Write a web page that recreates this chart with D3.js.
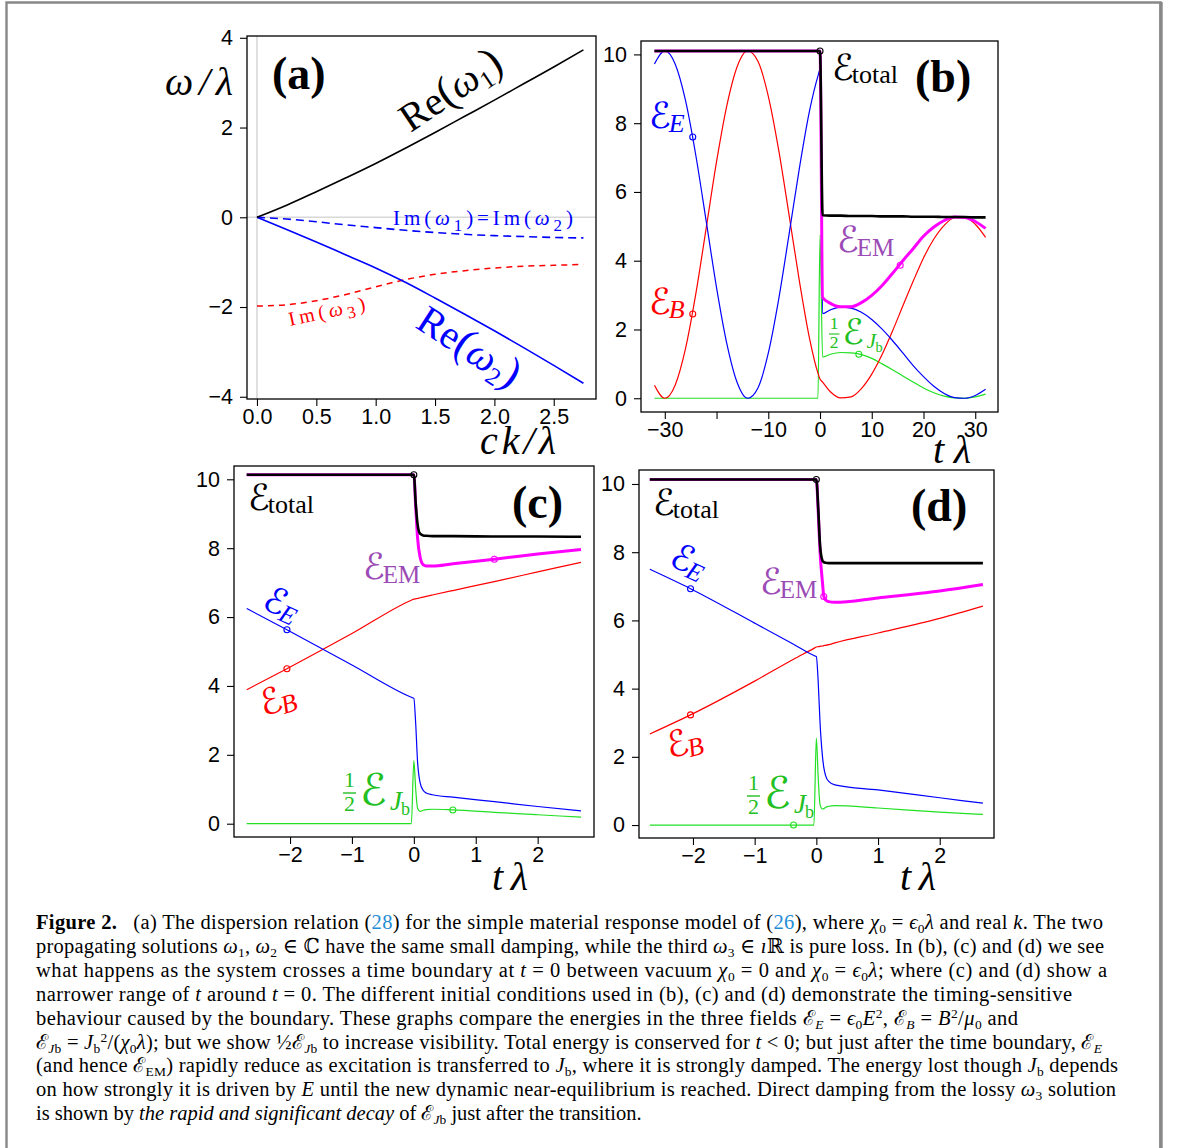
<!DOCTYPE html>
<html>
<head>
<meta charset="utf-8">
<script src="https://cdn.jsdelivr.net/npm/d3@7"></script>
<style>
  body { margin: 0; background: #fff; }
  svg { display: block; }
</style>
</head>
<body>
<div id="fig"></div>
<script>
// ---- (a) dispersion relation ----
const kVals = [0, 0.25, 0.5, 0.75, 1.0, 1.25, 1.5, 1.75, 2.0, 2.25, 2.5, 2.75];
const reW1  = [0, 0.27, 0.57, 0.88, 1.20, 1.54, 1.89, 2.25, 2.61, 2.98, 3.35, 3.73];
const reW2  = [0, -0.27, -0.55, -0.84, -1.13, -1.45, -1.80, -2.16, -2.53, -2.91, -3.30, -3.70];
const imW12 = [0, -0.04, -0.10, -0.17, -0.23, -0.29, -0.34, -0.38, -0.41, -0.43, -0.45, -0.46];
const imW3  = [-1.98, -1.95, -1.86, -1.72, -1.55, -1.39, -1.27, -1.19, -1.13, -1.09, -1.07, -1.05];

// ---- (b) energies, wide time range ----
const bT   = [-32, -30, -28, -26, -24, -22, -20, -18, -16, -14, -12, -10, -8, -6, -4, -2, -0.4, 0,
              0.5, 2, 4, 6, 8, 10, 12, 14, 16, 18, 20, 22, 24, 26, 28, 30, 32];
const bEE  = [9.72, 10.1, 9.72, 8.66, 7.06, 5.15, 3.22, 1.58, 0.45, 0.0, 0.30, 1.31, 2.87, 4.75, 6.68, 8.38, 9.37, 9.56,
              2.46, 2.57, 2.65, 2.62, 2.50, 2.29, 2.01, 1.68, 1.32, 0.95, 0.63, 0.35, 0.14, 0.02, 0.0, 0.08, 0.26];
const bEB  = [0.38, 0.0, 0.38, 1.44, 3.04, 4.95, 6.88, 8.52, 9.65, 10.1, 9.80, 8.79, 7.23, 5.35, 3.42, 1.72, 0.73, 0.56,
              0.47, 0.19, 0.01, 0.04, 0.28, 0.70, 1.27, 1.95, 2.68, 3.40, 4.08, 4.63, 5.03, 5.25, 5.26, 5.06, 4.68];
const bJ   = [0, 0, 0, 0, 0, 0, 0, 0, 0, 0, 0, 0, 0, 0, 0, 0, 0, 4.75,
              1.20, 1.28, 1.33, 1.32, 1.27, 1.16, 1.00, 0.83, 0.65, 0.47, 0.30, 0.16, 0.06, 0.01, 0.0, 0.04, 0.12];
const bEM  = [10.1, 10.1, 10.1, 10.1, 10.1, 10.1, 10.1, 10.1, 10.1, 10.1, 10.1, 10.1, 10.1, 10.1, 10.1, 10.1, 10.1, 10.1,
              2.93, 2.76, 2.66, 2.66, 2.78, 2.99, 3.28, 3.63, 4.00, 4.35, 4.71, 4.98, 5.17, 5.27, 5.26, 5.14, 4.94];
const bTot = [10.1, 10.1, 10.1, 10.1, 10.1, 10.1, 10.1, 10.1, 10.1, 10.1, 10.1, 10.1, 10.1, 10.1, 10.1, 10.1, 10.1, 10.1,
              5.32, 5.31, 5.31, 5.30, 5.30, 5.30, 5.29, 5.29, 5.29, 5.28, 5.28, 5.28, 5.27, 5.27, 5.27, 5.26, 5.26];
const bMarks = [[0, 10.1], [-24.6, 7.6], [-24.6, 2.45], [15.5, 3.87], [7.5, 1.28]]; // total, E, B, EM, Jb

// ---- (c) narrow range ----
const cT   = [-2.7, -2.05, -1, -0.04, 0, 0.03, 0.06, 0.1, 0.15, 0.2, 0.3, 0.63, 1.3, 2, 2.7];
const cTot = [10.13, 10.13, 10.13, 10.13, 10.13, 9.3, 8.7, 8.42, 8.37, 8.36, 8.35, 8.35, 8.34, 8.34, 8.33];
const cEM  = [10.13, 10.13, 10.13, 10.13, 10.13, 9.2, 8.3, 7.75, 7.52, 7.48, 7.48, 7.55, 7.68, 7.83, 7.96];
const cEE  = [6.25, 5.63, 4.61, 3.67, 3.64, 2.9, 1.8, 1.2, 0.97, 0.89, 0.84, 0.77, 0.64, 0.50, 0.37];
const cEB  = [3.89, 4.50, 5.52, 6.49, 6.52, 6.53, 6.54, 6.56, 6.58, 6.60, 6.64, 6.77, 7.03, 7.31, 7.59];
const cJ   = [0, 0, 0, 0, 1.83, 1.0, 0.45, 0.36, 0.39, 0.41, 0.42, 0.40, 0.33, 0.26, 0.19];
const cMarks = [[0, 10.13], [-2.05, 5.63], [-2.05, 4.5], [1.3, 7.68], [0.63, 0.4]];

// ---- (d) narrow range, other initial condition ----
const dT   = [-2.7, -2.04, -1, -0.37, -0.04, 0, 0.03, 0.06, 0.1, 0.12, 0.15, 0.2, 0.3, 1, 2, 2.7];
const dTot = [10.13, 10.13, 10.13, 10.13, 10.13, 10.13, 9.3, 8.2, 7.75, 7.71, 7.69, 7.68, 7.68, 7.68, 7.68, 7.68];
const dEM  = [10.13, 10.13, 10.13, 10.13, 10.13, 10.13, 9.2, 8.0, 7.1, 6.72, 6.6, 6.55, 6.53, 6.66, 6.86, 7.05];
const dEE  = [7.5, 6.93, 5.92, 5.30, 4.97, 4.94, 4.2, 3.0, 2.0, 1.7, 1.45, 1.28, 1.18, 1.03, 0.80, 0.64];
const dEB  = [2.67, 3.23, 4.22, 4.86, 5.18, 5.22, 5.23, 5.24, 5.25, 5.26, 5.27, 5.29, 5.34, 5.63, 6.06, 6.42];
const dJ   = [0, 0, 0, 0, 0, 2.55, 1.4, 0.6, 0.47, 0.48, 0.52, 0.55, 0.57, 0.50, 0.38, 0.31];
const dMarks = [[0, 10.13], [-2.04, 6.93], [-2.04, 3.23], [0.12, 6.7], [-0.37, 0]];

// tick values
const aXTicks = [0, 0.5, 1, 1.5, 2, 2.5];
const aYTicks = [-4, -2, 0, 2, 4];
const bXTicks = [-30, -20, -10, 0, 10, 20, 30];
const bXHidden = [-20];               // label dropped in the original
const eYTicks = [0, 2, 4, 6, 8, 10];
const cXTicks = [-2, -1, 0, 1, 2];

const W = 1179, H = 1148;
const SERIF = "'Liberation Serif', 'DejaVu Serif', serif";
const SANS = "'Liberation Sans', Arial, sans-serif";
const SCRIPT = "'DejaVu Serif', 'DejaVu Sans', serif";
const BLUE = "#0000ff", RED = "#ff0000", GREEN = "#22e022", MAG = "#ff00ff";
const PURPLE = "#9b4bb5", GREENTXT = "#22c022";
const minus = v => String(v).replace("-", "\u2212");

const svg = d3.select("#fig").append("svg").attr("width", W).attr("height", H);

// page border
svg.append("path").attr("d", "M6.5,1200V2.5H1160.5V1200")
   .attr("fill", "none").attr("stroke", "#888").attr("stroke-width", 2.4);
svg.append("line").attr("x1", 1161).attr("x2", 1161).attr("y1", 2).attr("y2", 1200)
   .attr("stroke", "#888").attr("stroke-width", 3.4);

function styleAxis(sel) {
  sel.select(".domain").remove();
  sel.attr("font-size", null).attr("font-family", null);
  sel.selectAll(".tick line").attr("stroke", "#000").attr("stroke-width", 1.1);
  sel.selectAll(".tick text").attr("font-family", SANS).attr("font-size", 21.5).attr("fill", "#000");
}

function panel(cfg) {
  const x = d3.scaleLinear().domain(cfg.xDom).range([cfg.left, cfg.right]);
  const y = d3.scaleLinear().domain(cfg.yDom).range([cfg.bottom, cfg.top]);
  const g = svg.append("g");
  g.append("g").attr("transform", `translate(${cfg.left},0)`)
   .call(d3.axisLeft(y).tickValues(cfg.yTicks).tickSize(7).tickPadding(7).tickFormat(cfg.yFmt || minus))
   .call(styleAxis);
  g.append("g").attr("transform", `translate(0,${cfg.bottom})`)
   .call(d3.axisBottom(x).tickValues(cfg.xTicks).tickSize(7).tickPadding(3).tickFormat(cfg.xFmt || minus))
   .call(styleAxis);
  const plot = g.append("g");
  const frame = () => g.append("rect")
    .attr("x", cfg.left).attr("y", cfg.top)
    .attr("width", cfg.right - cfg.left).attr("height", cfg.bottom - cfg.top)
    .attr("fill", "none").attr("stroke", "#000").attr("stroke-width", 1.3);
  return { g: plot, x, y, frame };
}

function series(p, xs, ys, color, width, dash) {
  const line = d3.line().x((d, i) => p.x(xs[i])).y(d => p.y(d)).curve(d3.curveMonotoneX);
  p.g.append("path").attr("d", line(ys)).attr("fill", "none")
     .attr("stroke", color).attr("stroke-width", width)
     .attr("stroke-dasharray", dash || null).attr("stroke-linejoin", "round");
}

function marks(p, pts) {
  const cols = ["#000", BLUE, RED, MAG, GREEN];
  pts.forEach((d, i) => p.g.append("circle").attr("cx", p.x(d[0])).attr("cy", p.y(d[1]))
    .attr("r", 3).attr("fill", "none").attr("stroke", cols[i]).attr("stroke-width", 1.1));
}

// generic rich text: parts = [{t, s, i, sh, f}]
function rich(parent, x, y, parts, o = {}) {
  const t = parent.append("text").attr("x", x).attr("y", y)
    .attr("fill", o.fill || "#000").attr("text-anchor", o.anchor || "start")
    .attr("font-family", SERIF);
  if (o.len) t.attr("textLength", o.len).attr("lengthAdjust", "spacing");
  parts.forEach(p => {
    const s = t.append("tspan").text(p.t).attr("font-family", p.f || SERIF)
      .attr("font-size", p.s || o.size || 20);
    if (p.i) s.attr("font-style", "italic");
    if (p.b) s.attr("font-weight", "bold");
    if (p.sh) s.attr("baseline-shift", p.sh);
    if (p.dx) s.attr("dx", p.dx);
  });
  return t;
}

function eLabel(x, y, sub, color, o = {}) {
  const g = svg.append("g").attr("transform", `translate(${x},${y}) rotate(${o.rot || 0})`);
  rich(g, 0, 0, [
    { t: "\u2130", f: SCRIPT, s: o.size || 36 },
    { t: sub, s: o.sub || 26, i: o.it, sh: o.sh ?? -4, dx: -2 }
  ], { fill: color, anchor: o.anchor || "start" });
}

function halfJ(x, y, sc) {
  const g = svg.append("g").attr("transform", `translate(${x},${y}) scale(${sc})`).attr("fill", GREENTXT);
  g.append("text").attr("x", 6.5).attr("y", -6).attr("text-anchor", "middle")
   .attr("font-family", SERIF).attr("font-size", 22).text("1");
  g.append("line").attr("x1", 0).attr("x2", 13).attr("y1", 0).attr("y2", 0)
   .attr("stroke", GREENTXT).attr("stroke-width", 1.4);
  g.append("text").attr("x", 6.5).attr("y", 18).attr("text-anchor", "middle")
   .attr("font-family", SERIF).attr("font-size", 22).text("2");
  g.append("text").attr("x", 17).attr("y", 12).attr("font-family", SCRIPT).attr("font-size", 44).text("\u2130");
  g.append("text").attr("x", 47).attr("y", 17).attr("font-family", SERIF).attr("font-style", "italic")
   .attr("font-size", 27).text("J");
  g.append("text").attr("x", 58).attr("y", 22).attr("font-family", SERIF).attr("font-size", 18).text("b");
}

function panelLetter(x, y, s) {
  svg.append("text").attr("x", x).attr("y", y).attr("font-family", SERIF)
     .attr("font-weight", "bold").attr("font-size", 46).text(s);
}
function axisTitle(x, y, s, len) {
  svg.append("text").attr("x", x).attr("y", y).attr("font-family", SERIF)
     .attr("font-style", "italic").attr("font-size", 40)
     .attr("textLength", len).attr("lengthAdjust", "spacing").text(s);
}

// ================= (a) =================
const pa = panel({ left: 247, right: 596, top: 36, bottom: 399,
  xDom: [-0.084, 2.856], yDom: [-4.05, 4.04],
  xTicks: aXTicks, yTicks: aYTicks, xFmt: d3.format(".1f") });
pa.g.append("line").attr("x1", pa.x(0)).attr("x2", pa.x(0)).attr("y1", 36).attr("y2", 399)
   .attr("stroke", "#d8d8d8").attr("stroke-width", 1.6);
pa.g.append("line").attr("x1", 247).attr("x2", 596).attr("y1", pa.y(0)).attr("y2", pa.y(0))
   .attr("stroke", "#d8d8d8").attr("stroke-width", 1.6);
series(pa, kVals, imW3, RED, 1.5, "6,5");
series(pa, kVals, imW12, BLUE, 1.6, "8,5");
series(pa, kVals, reW2, BLUE, 1.6);
series(pa, kVals, reW1, "#000", 1.6);
pa.frame();

panelLetter(272, 89, "(a)");
axisTitle(165, 95, "\u03c9/\u03bb", 68);
axisTitle(480, 454, "ck/\u03bb", 76);
{
  const g1 = svg.append("g").attr("transform", "translate(458,101) rotate(-34)");
  rich(g1, 0, 0, [{ t: "Re", s: 40 }, { t: "(", s: 44 }, { t: "\u03c9", s: 40, i: true },
    { t: "1", s: 25, sh: -7 }, { t: ")", s: 44 }], { anchor: "middle" });
  const g2 = svg.append("g").attr("transform", "translate(462,358) rotate(33)");
  rich(g2, 0, 0, [{ t: "Re", s: 40 }, { t: "(", s: 44 }, { t: "\u03c9", s: 40, i: true },
    { t: "2", s: 25, sh: -7 }, { t: ")", s: 44 }], { anchor: "middle", fill: BLUE });
  rich(svg, 393, 225, [{ t: "Im(" }, { t: "\u03c9", i: true }, { t: "1", s: 17, sh: -6 },
    { t: ")=Im(" }, { t: "\u03c9", i: true }, { t: "2", s: 17, sh: -6 }, { t: ")" }],
    { fill: BLUE, size: 21, len: 180 });
  const g3 = svg.append("g").attr("transform", "translate(290,326) rotate(-12)");
  rich(g3, 0, 0, [{ t: "Im(" }, { t: "\u03c9", i: true }, { t: "3", s: 17, sh: -5 }, { t: ")" }],
    { fill: RED, size: 20, len: 78 });
}

// ================= (b) =================
const pb = panel({ left: 641, right: 998, top: 41, bottom: 412,
  xDom: [-34.6, 34.4], yDom: [-0.40, 10.39],
  xTicks: bXTicks, yTicks: eYTicks,
  xFmt: d => bXHidden.includes(d) ? "" : minus(d) });
series(pb, bT, bJ, GREEN, 1.2);
series(pb, bT, bEB, RED, 1.2);
series(pb, bT, bEE, BLUE, 1.2);
series(pb, bT, bEM, MAG, 3);
series(pb, bT, bTot, "#000", 2.6);
marks(pb, bMarks);
pb.frame();
panelLetter(915, 92, "(b)");
axisTitle(933, 463, "t\u03bb", 38);
eLabel(832, 80, "total", "#000", { sh: -3 });
eLabel(649, 128, "E", BLUE, { it: true });
eLabel(649, 314, "B", RED, { it: true });
eLabel(837, 252, "EM", PURPLE, { sub: 25 });
halfJ(829, 334, 0.8);

// ================= (c) =================
const pc = panel({ left: 234, right: 594, top: 466, bottom: 837,
  xDom: [-2.905, 2.91], yDom: [-0.386, 10.386],
  xTicks: cXTicks, yTicks: eYTicks });
series(pc, cT, cJ, GREEN, 1.2);
series(pc, cT, cEB, RED, 1.2);
series(pc, cT, cEE, BLUE, 1.2);
series(pc, cT, cEM, MAG, 3);
series(pc, cT, cTot, "#000", 2.6);
marks(pc, cMarks);
pc.frame();
panelLetter(512, 518, "(c)");
axisTitle(492, 890, "t\u03bb", 36);
eLabel(248, 510, "total", "#000", { sh: -3 });
eLabel(363, 579, "EM", PURPLE, { sub: 25 });
eLabel(277, 615, "E", BLUE, { it: true, rot: 25, anchor: "middle" });
eLabel(281, 711, "B", RED, { it: true, rot: -18, anchor: "middle" });
halfJ(343, 793, 1);

// ================= (d) =================
const pd = panel({ left: 639, right: 994, top: 470, bottom: 838,
  xDom: [-2.875, 2.88], yDom: [-0.38, 10.41],
  xTicks: cXTicks, yTicks: eYTicks });
series(pd, dT, dJ, GREEN, 1.2);
series(pd, dT, dEB, RED, 1.2);
series(pd, dT, dEE, BLUE, 1.2);
series(pd, dT, dEM, MAG, 3);
series(pd, dT, dTot, "#000", 2.6);
marks(pd, dMarks);
pd.frame();
panelLetter(911, 521, "(d)");
axisTitle(900, 890, "t\u03bb", 36);
eLabel(653, 515, "total", "#000", { sh: -3 });
eLabel(760, 594, "EM", PURPLE, { sub: 25 });
eLabel(684, 572, "E", BLUE, { it: true, rot: 25, anchor: "middle" });
eLabel(687, 754, "B", RED, { it: true, rot: -15, anchor: "middle" });
halfJ(747, 796, 1);

// ================= caption =================
const capLines = [
  "**Figure 2.**\u2002 (a) The dispersion relation ([28]) for the simple material response model of ([26]), where *\u03c7*_{0} = *\u03f5*_{0}*\u03bb* and real *k*. The two",
  "propagating solutions *\u03c9*_{1}, *\u03c9*_{2} \u2208 \u2102 have the same small damping, while the third *\u03c9*_{3} \u2208 *\u0131*\u211d is pure loss. In (b), (c) and (d) we see",
  "what happens as the system crosses a time boundary at *t* = 0 between vacuum *\u03c7*_{0} = 0 and *\u03c7*_{0} = *\u03f5*_{0}*\u03bb*; where (c) and (d) show a",
  "narrower range of *t* around *t* = 0. The different initial conditions used in (b), (c) and (d) demonstrate the timing-sensitive",
  "behaviour caused by the boundary. These graphs compare the energies in the three fields \u2130_!{E} = *\u03f5*_{0}*E*^{2}, \u2130_!{B} = *B*^{2}/*\u03bc*_{0} and",
  "\u2130_!{J}_{b} = *J*_{b}^{2}/(*\u03c7*_{0}*\u03bb*); but we show \u00bd\u2130_!{J}_{b} to increase visibility. Total energy is conserved for *t* < 0; but just after the time boundary, \u2130_!{E}",
  "(and hence \u2130_{EM}) rapidly reduce as excitation is transferred to *J*_{b}, where it is strongly damped. The energy lost though *J*_{b} depends",
  "on how strongly it is driven by *E* until the new dynamic near-equilibrium is reached. Direct damping from the lossy *\u03c9*_{3} solution",
  "is shown by *the rapid and significant decay* of \u2130_!{J}_{b} just after the transition."
];
const capEnds = [1103, 1104, 1107, 1072, 1018, 1102, 1118, 1116, null];
const capY0 = 929, capDy = 23.9;

capLines.forEach((line, li) => {
  const t = svg.append("text").attr("x", 36).attr("y", capY0 + li * capDy)
    .attr("font-family", SERIF).attr("font-size", 20.5).attr("fill", "#000");
  if (capEnds[li]) t.attr("textLength", capEnds[li] - 36).attr("lengthAdjust", "spacing");
  const re = /\*\*(.+?)\*\*|\*(.+?)\*|_!\{(.+?)\}|_\{(.+?)\}|\^\{(.+?)\}|\[(.+?)\]|([^*_^\[]+)/g;
  let m;
  while ((m = re.exec(line))) {
    const s = t.append("tspan");
    if (m[1]) s.text(m[1]).attr("font-weight", "bold");
    else if (m[2]) s.text(m[2]).attr("font-style", "italic");
    else if (m[3]) s.text(m[3]).attr("font-style", "italic").attr("font-size", 13.5).attr("baseline-shift", -4);
    else if (m[4]) s.text(m[4]).attr("font-size", 13.5).attr("baseline-shift", -4);
    else if (m[5]) s.text(m[5]).attr("font-size", 13.5).attr("baseline-shift", 7);
    else if (m[6]) s.text(m[6]).attr("fill", "#1f8dd6");
    else s.text(m[7]);
  }
});
</script>
</body>
</html>
